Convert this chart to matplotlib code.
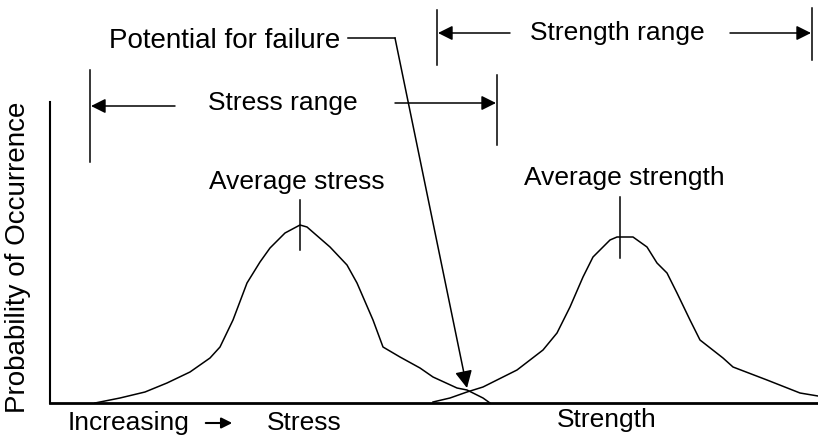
import matplotlib.pyplot as plt

plt.rcParams['font.family'] = ['Liberation Sans', 'DejaVu Sans']

# stress distribution (x: increasing stress/strength, y: probability of occurrence)
stress_x = [45, 70, 95, 117, 140, 160, 170, 183, 197, 210, 220, 235, 250, 257, 280, 297, 307, 323, 333, 350, 370, 383, 407, 417, 433, 440]
stress_y = [0, 5, 11, 20, 31, 45, 56, 83, 120, 141, 155, 170, 178, 176, 156, 138, 120, 83, 56, 46, 35, 26, 15, 13, 5, 0]

# strength distribution
strength_x = [383, 400, 417, 433, 467, 493, 507, 520, 533, 543, 560, 567, 583, 597, 607, 617, 627, 640, 650, 673, 683, 717, 750, 768]
strength_y = [1, 5, 11, 16, 33, 53, 70, 96, 126, 146, 163, 166, 166, 156, 140, 130, 110, 83, 63, 45, 36, 23, 10, 7]

avg_stress = 250
avg_strength = 570
stress_range = (40, 447)
strength_range = (387, 762)
failure_point = (417, 15)

fs = 19
fig = plt.figure(figsize=(8.18, 4.43), dpi=100)
ax = fig.add_axes([50 / 818, 40 / 443, 768 / 818, 403 / 443])
ax.set_xlim(0, 768)
ax.set_ylim(0, 403)

ax.plot(stress_x, stress_y, color='black', lw=1.1)
ax.plot(strength_x, strength_y, color='black', lw=1.1)

# axes
ax.spines['top'].set_visible(False)
ax.spines['right'].set_visible(False)
ax.spines['left'].set_bounds(0, 301)
ax.spines['left'].set_linewidth(1.5)
ax.spines['bottom'].set_linewidth(2)
ax.set_xticks([])
ax.set_yticks([])

# average markers
ax.plot([avg_stress, avg_stress], [153, 203], color='black', lw=1.1)
ax.text(avg_stress - 3, 221, 'Average stress', ha='center', va='center', fontsize=fs)
ax.plot([avg_strength, avg_strength], [145, 206], color='black', lw=1.1)
ax.text(avg_strength + 4, 225, 'Average strength', ha='center', va='center', fontsize=fs)

arrow = dict(arrowstyle='-|>', color='black', lw=1.1, mutation_scale=22, shrinkA=0, shrinkB=0)

# stress range
ax.plot([stress_range[0]] * 2, [241, 333], color='black', lw=1.1)
ax.plot([stress_range[1]] * 2, [258, 328], color='black', lw=1.1)
ax.annotate('', xy=(stress_range[0] + 1, 297), xytext=(125, 297), arrowprops=arrow)
ax.annotate('', xy=(stress_range[1] - 1, 300), xytext=(345, 300), arrowprops=arrow)
ax.text(233, 300, 'Stress range', ha='center', va='center', fontsize=fs)

# strength range
ax.plot([strength_range[0]] * 2, [338, 393], color='black', lw=1.1)
ax.plot([strength_range[1]] * 2, [343, 395], color='black', lw=1.1)
ax.annotate('', xy=(strength_range[0] + 1, 370), xytext=(460, 370), arrowprops=arrow)
ax.annotate('', xy=(strength_range[1] - 1, 370), xytext=(680, 370), arrowprops=arrow)
ax.text(567, 370, 'Strength range', ha='center', va='center', fontsize=fs)

# potential for failure
ax.text(290, 362, 'Potential for failure', ha='right', va='center', fontsize=20)
ax.plot([298, 345], [365, 365], color='black', lw=1.1)
ax.annotate('', xy=failure_point, xytext=(345, 365),
            arrowprops=dict(arrow, mutation_scale=26))

# labels
fig.text(18 / 818, 1 - 257 / 443, 'Probability of Occurrence', rotation=90,
         ha='center', va='center', fontsize=20)
fig.text(68 / 818, 1 - 423 / 443, 'Increasing', ha='left', va='center', fontsize=fs)
ax.annotate('', xy=(235, 20), xytext=(203, 20), xycoords='figure pixels',
            textcoords='figure pixels', arrowprops=dict(arrowstyle='-|>', color='black',
                                                        lw=1.5, mutation_scale=16))
fig.text(267 / 818, 1 - 423 / 443, 'Stress', ha='left', va='center', fontsize=fs)
fig.text(557 / 818, 1 - 420 / 443, 'Strength', ha='left', va='center', fontsize=fs)

fig.savefig('out.png', dpi=100)
